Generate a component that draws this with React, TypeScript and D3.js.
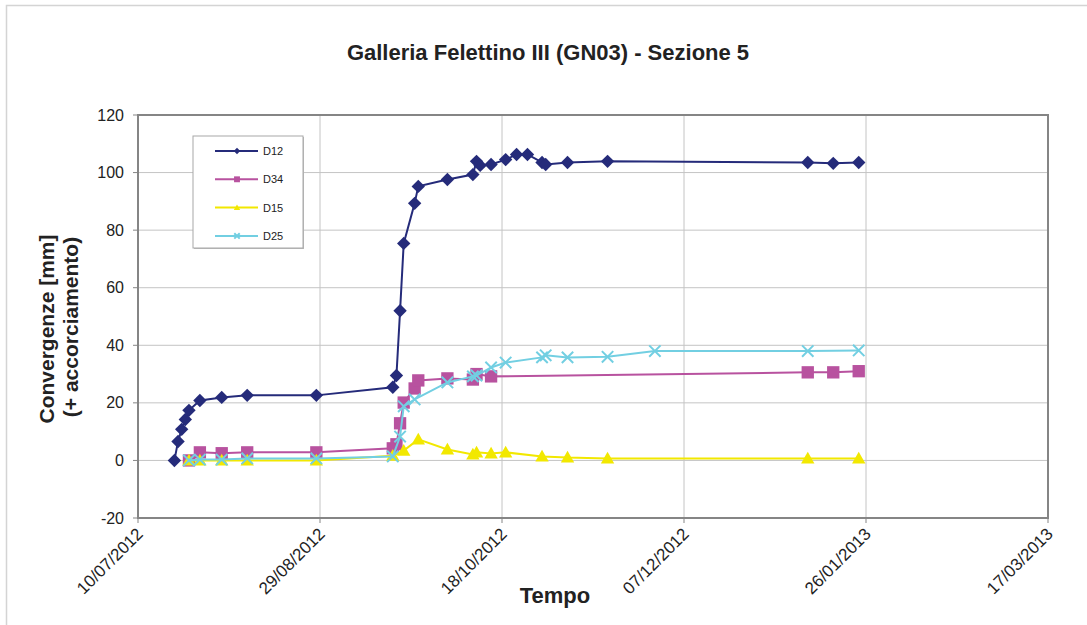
import React from "react";
import * as d3 from "d3";

const xTickLabels = ["10/07/2012", "29/08/2012", "18/10/2012", "07/12/2012", "26/01/2013", "17/03/2013"];
const yTicks = [-20, 0, 20, 40, 60, 80, 100, 120];

const d12Dates = ["20/07/2012", "21/07/2012", "22/07/2012", "23/07/2012", "24/07/2012", "27/07/2012", "02/08/2012", "09/08/2012", "28/08/2012", "18/09/2012", "19/09/2012", "20/09/2012", "21/09/2012", "24/09/2012", "25/09/2012", "03/10/2012", "10/10/2012", "11/10/2012", "12/10/2012", "15/10/2012", "19/10/2012", "22/10/2012", "25/10/2012", "29/10/2012", "30/10/2012", "05/11/2012", "16/11/2012", "10/01/2013", "17/01/2013", "24/01/2013"];
const d12Values = [0, 6.6, 10.8, 14.2, 17.4, 20.8, 21.9, 22.6, 22.6, 25.4, 29.5, 52, 75.4, 89.3, 95.2, 97.6, 99.3, 103.9, 102.5, 102.8, 104.5, 106.3, 106.3, 103.5, 102.8, 103.5, 103.9, 103.5, 103.2, 103.5];

const d34Dates = ["24/07/2012", "27/07/2012", "02/08/2012", "09/08/2012", "28/08/2012", "18/09/2012", "19/09/2012", "20/09/2012", "21/09/2012", "24/09/2012", "25/09/2012", "03/10/2012", "10/10/2012", "11/10/2012", "15/10/2012", "10/01/2013", "17/01/2013", "24/01/2013"];
const d34Values = [0, 2.8, 2.5, 2.8, 2.8, 4.2, 5.6, 12.9, 20.1, 25, 27.8, 28.5, 28.1, 30, 29.2, 30.6, 30.6, 31];

const d15Dates = ["24/07/2012", "27/07/2012", "02/08/2012", "09/08/2012", "28/08/2012", "18/09/2012", "21/09/2012", "25/09/2012", "03/10/2012", "10/10/2012", "11/10/2012", "15/10/2012", "19/10/2012", "29/10/2012", "05/11/2012", "16/11/2012", "10/01/2013", "24/01/2013"];
const d15Values = [0, 0, 0, 0, 0, 1.6, 3.4, 7.3, 3.8, 2.1, 2.8, 2.4, 2.8, 1.4, 1.0, 0.7, 0.7, 0.7];

const d25Dates = ["24/07/2012", "27/07/2012", "02/08/2012", "09/08/2012", "28/08/2012", "18/09/2012", "20/09/2012", "21/09/2012", "24/09/2012", "03/10/2012", "10/10/2012", "11/10/2012", "15/10/2012", "19/10/2012", "29/10/2012", "30/10/2012", "05/11/2012", "16/11/2012", "29/11/2012", "10/01/2013", "24/01/2013"];
const d25Values = [0, 0.3, 0.3, 0.7, 0.7, 1.4, 8.3, 18.8, 21.2, 27.1, 29.2, 29.5, 32.3, 34, 35.8, 36.5, 35.8, 36, 38, 38, 38.2];

const seriesNames = ["D12", "D34", "D15", "D25"];
const seriesColors = ["#252b7a", "#b8529f", "#f2e800", "#72cfe2"];
const seriesMarkers = ["diamond", "square", "triangle", "x"];

const parse = d3.utcParse("%d/%m/%Y");
const FONT = "'Liberation Sans', Arial, sans-serif";

const W = 1087, H = 625;
const L = 138, R = 1048, T = 115, B = 518;

const x = d3.scaleUtc().domain([parse(xTickLabels[0])!, parse(xTickLabels[xTickLabels.length - 1])!]).range([L, R]);
const y = d3.scaleLinear().domain([-20, 120]).range([B, T]);

function Marker({ kind, cx, cy, color, s }: { kind: string; cx: number; cy: number; color: string; s: number }) {
  if (kind === "diamond") {
    return <path d={`M${cx},${cy - s}L${cx + s},${cy}L${cx},${cy + s}L${cx - s},${cy}Z`} fill={color} />;
  }
  if (kind === "square") {
    const h = s * 0.92;
    return <rect x={cx - h} y={cy - h} width={2 * h} height={2 * h} fill={color} />;
  }
  if (kind === "triangle") {
    return <path d={`M${cx},${cy - s}L${cx + s},${cy + s * 0.75}L${cx - s},${cy + s * 0.75}Z`} fill={color} />;
  }
  const h = s * 0.85;
  return (
    <path d={`M${cx - h},${cy - h}L${cx + h},${cy + h}M${cx - h},${cy + h}L${cx + h},${cy - h}`} stroke={color} strokeWidth={2} fill="none" />
  );
}

export default function App() {
  const series = [
    { dates: d12Dates, values: d12Values },
    { dates: d34Dates, values: d34Values },
    { dates: d15Dates, values: d15Values },
    { dates: d25Dates, values: d25Values },
  ].map((s, i) => ({
    name: seriesNames[i],
    color: seriesColors[i],
    marker: seriesMarkers[i],
    pts: s.dates.map((d, j) => [x(parse(d)!), y(s.values[j])] as [number, number]),
  }));
  const line = d3.line<[number, number]>().x((d) => d[0]).y((d) => d[1]);
  const xTicks = xTickLabels.map((t) => ({ label: t, pos: x(parse(t)!) }));

  return (
    <svg width={W} height={H} style={{ position: "absolute", left: 0, top: 0, background: "#fff" }} fontFamily={FONT}>
      <rect x={0} y={0} width={W} height={H} fill="#fff" />
      <path d={`M6.5,${H}V5.5H${W}`} fill="none" stroke="#d4d4d4" strokeWidth={1.5} />
      <text x={548} y={60} textAnchor="middle" fontSize={22} fontWeight="bold" fill="#222">
        Galleria Felettino III (GN03) - Sezione 5
      </text>
      {/* grid */}
      {yTicks.map((t) => (
        <line key={"gy" + t} x1={L} x2={R} y1={y(t)} y2={y(t)} stroke="#c4c4c4" strokeWidth={1} />
      ))}
      {xTicks.map((t) => (
        <line key={"gx" + t.label} x1={t.pos} x2={t.pos} y1={T} y2={B} stroke="#c4c4c4" strokeWidth={1} />
      ))}
      <rect x={L} y={T} width={R - L} height={B - T} fill="none" stroke="#858585" strokeWidth={2} />
      {/* y ticks */}
      {yTicks.map((t) => (
        <g key={"ty" + t}>
          <line x1={L - 5} x2={L} y1={y(t)} y2={y(t)} stroke="#858585" strokeWidth={1} />
          <text x={124} y={y(t) + 5.5} textAnchor="end" fontSize={16} fill="#222">
            {t}
          </text>
        </g>
      ))}
      {/* x ticks */}
      {xTicks.map((t) => (
        <g key={"tx" + t.label}>
          <line x1={t.pos} x2={t.pos} y1={B} y2={B + 5} stroke="#858585" strokeWidth={1} />
          <text transform={`translate(${t.pos + 6},${535}) rotate(-45)`} textAnchor="end" fontSize={17} fill="#222">
            {t.label}
          </text>
        </g>
      ))}
      {/* axis titles */}
      <text transform={`translate(54,329) rotate(-90)`} textAnchor="middle" fontSize={21} fontWeight="bold" fill="#222">
        Convergenze [mm]
      </text>
      <text transform={`translate(78,327) rotate(-90)`} textAnchor="middle" fontSize={21} fontWeight="bold" fill="#222">
        (+ accorciamento)
      </text>
      <text x={555} y={603} textAnchor="middle" fontSize={22} fontWeight="bold" fill="#222">
        Tempo
      </text>
      {/* series */}
      {series.map((s) => (
        <g key={s.name}>
          <path d={line(s.pts)!} fill="none" stroke={s.color} strokeWidth={2} />
          {s.pts.map((p, j) => (
            <Marker key={j} kind={s.marker} cx={p[0]} cy={p[1]} color={s.color} s={6.7} />
          ))}
        </g>
      ))}
      {/* legend */}
      <rect x={194} y={137} width={110} height={112} fill="#bbb" />
      <rect x={193} y={136} width={110} height={112} fill="#fff" stroke="#a8a8a8" strokeWidth={1} />
      {series.map((s, i) => {
        const ly = 151 + i * 28.3;
        return (
          <g key={"lg" + s.name}>
            <line x1={215} x2={258} y1={ly} y2={ly} stroke={s.color} strokeWidth={2} />
            <Marker kind={s.marker} cx={237} cy={ly} color={s.color} s={3.2} />
            <text x={263} y={ly + 4} fontSize={11} fill="#222">
              {s.name}
            </text>
          </g>
        );
      })}
    </svg>
  );
}
